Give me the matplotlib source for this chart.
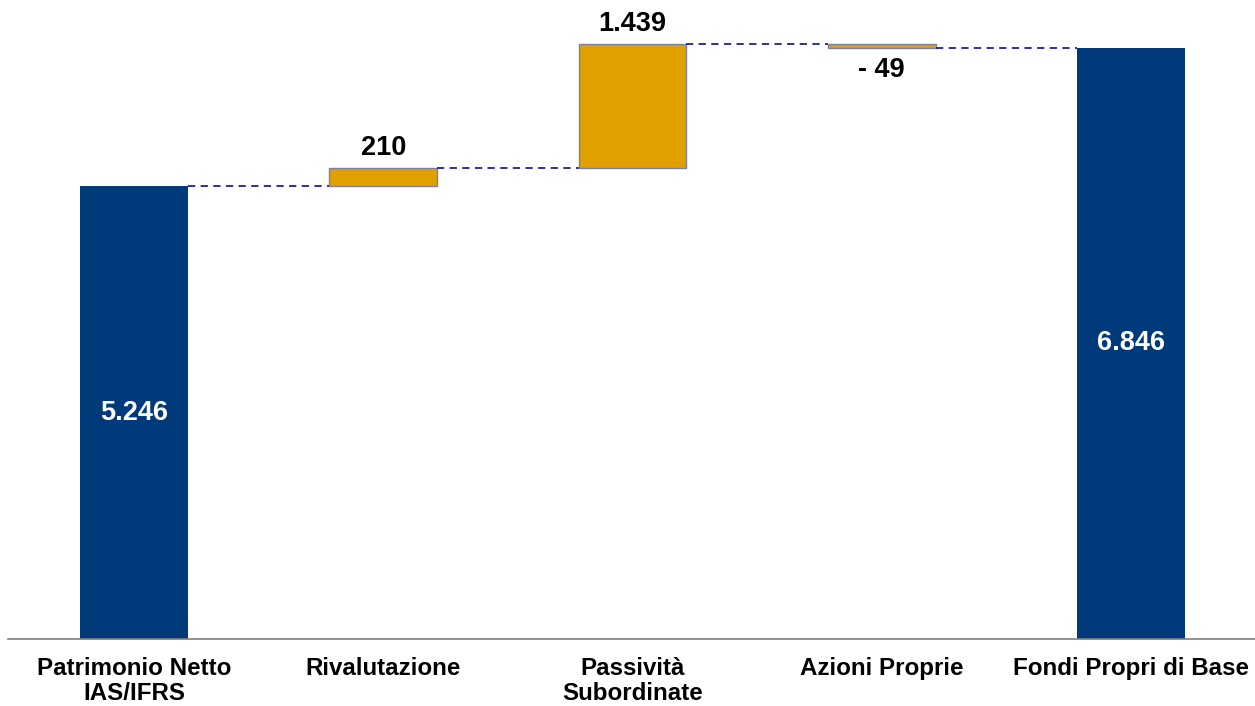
import matplotlib
matplotlib.use("Agg")
import matplotlib.pyplot as plt

categories = ["Patrimonio Netto\nIAS/IFRS", "Rivalutazione", "Passività\nSubordinate",
              "Azioni Proprie", "Fondi Propri di Base"]
values = [5246, 210, 1439, -49, 6846]
kinds = ["total", "delta", "delta", "delta", "total"]
value_labels = ["5.246", "210", "1.439", "- 49", "6.846"]

blue = "#003A7A"
orange = "#E0A100"
edge = "#7F7FA0"
dash_col = "#1F1F99"

plt.rcParams['font.family'] = ['Liberation Sans', 'DejaVu Sans']

fig = plt.figure(figsize=(12.55, 7.06), dpi=100)
ax = fig.add_axes([8/1255, 67/706, 1 - 8/1255, 1 - 67/706])

width = 0.433
vfs = 19.5
cum = 0
tops = []
for i, (v, k) in enumerate(zip(values, kinds)):
    if k == "total":
        ax.bar(i, v, width=width, bottom=0, color=blue, edgecolor=blue, linewidth=0)
        ax.text(i, v / 2, value_labels[i], ha="center", va="center", color="white",
                fontsize=vfs, fontweight="bold")
        cum = v
        tops.append(v)
    else:
        base = cum
        cum = cum + v
        lo, hi = min(base, cum), max(base, cum)
        ax.bar(i, hi - lo, width=width, bottom=lo, color=orange, edgecolor=edge, linewidth=1)
        if v >= 0:
            ax.text(i, hi + 75, value_labels[i], ha="center", va="bottom", color="black",
                    fontsize=vfs, fontweight="bold")
        else:
            ax.text(i, lo - 110, value_labels[i], ha="center", va="top", color="black",
                    fontsize=vfs, fontweight="bold")
        tops.append(cum)

for i in range(len(values) - 1):
    ax.plot([i + width / 2, i + 1 - width / 2], [tops[i], tops[i]], color=dash_col,
            linestyle=(0, (4, 3)), linewidth=1.3)

ax.set_xlim(-0.5055, 4.4975)
ax.set_ylim(0, 7400)
for s in ["top", "right", "left"]:
    ax.spines[s].set_visible(False)
ax.spines["bottom"].set_color("#808080")
ax.spines["bottom"].set_linewidth(1.2)
ax.set_yticks([])
ax.set_xticks(range(len(categories)))
ax.set_xticklabels(categories, fontsize=17.4, fontweight="bold", linespacing=1.1)
ax.tick_params(axis="x", length=0, pad=13)

fig.savefig("out.png", dpi=100)
